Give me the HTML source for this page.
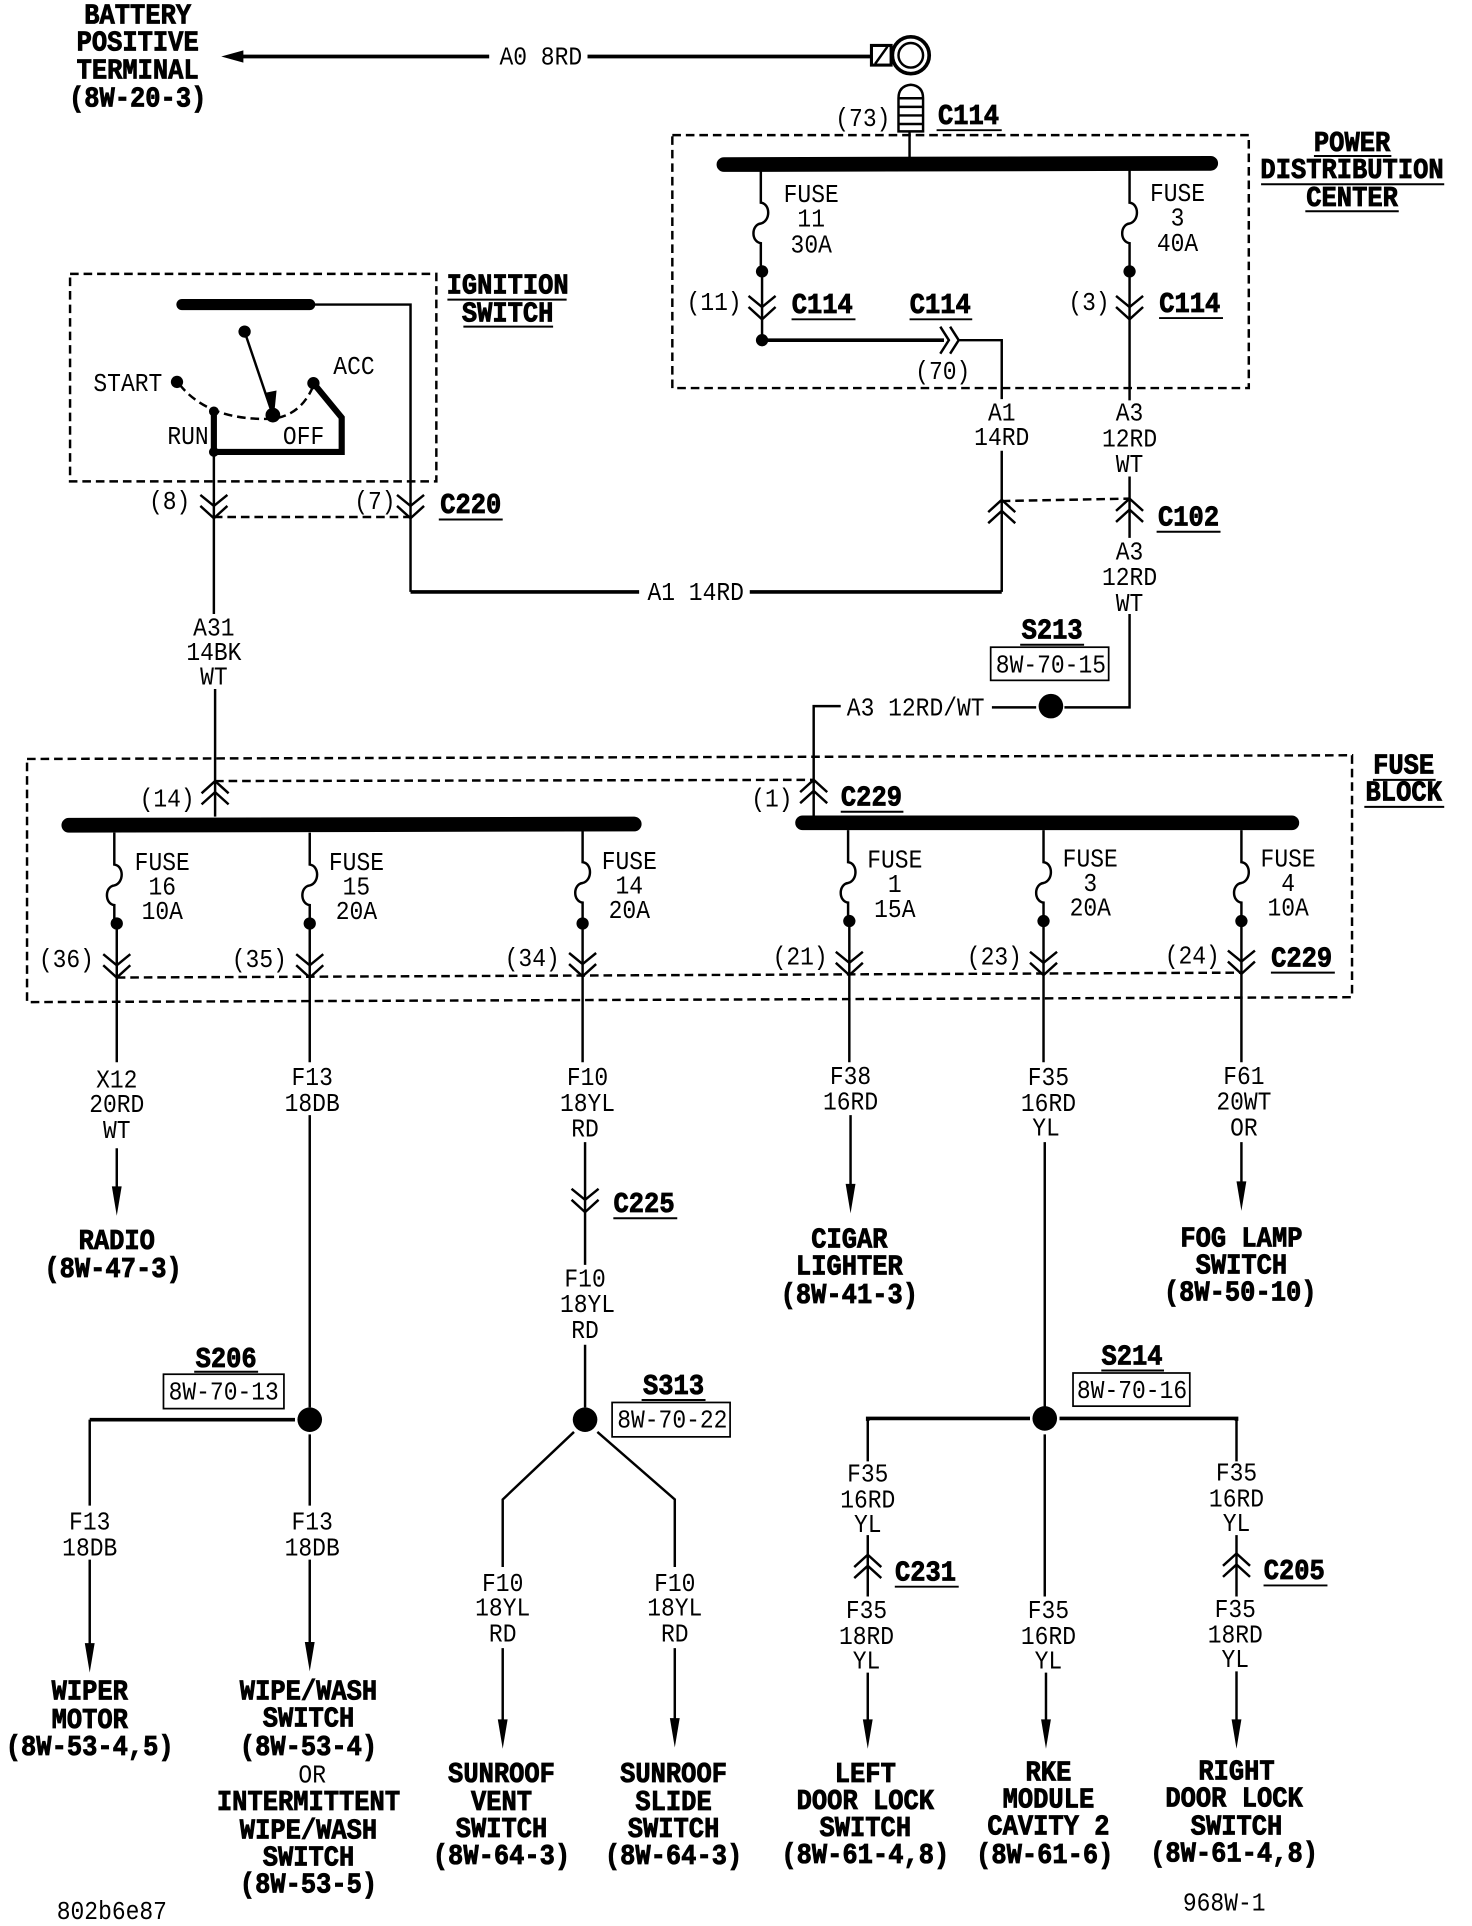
<!DOCTYPE html>
<html><head><meta charset="utf-8"><title>Wiring diagram</title>
<style>
html,body{margin:0;padding:0;background:#fff}
svg{display:block}
text{font-family:"Liberation Mono",monospace;font-size:21px;text-anchor:middle;dominant-baseline:central;fill:#000;transform-box:fill-box;transform-origin:center;transform:translateY(1.8px) scaleX(.89)}
text.b{font-weight:bold;font-size:23px;stroke:#000;stroke-width:.7px;transform:translateY(1.8px) scaleX(.9)}
.w{fill:none;stroke:#000;stroke-width:2}
.t{fill:none;stroke:#000;stroke-width:3}
.h{fill:none;stroke:#000;stroke-width:5}
.d{fill:none;stroke:#000;stroke-width:2;stroke-dasharray:7 4}
.u{stroke:#000;stroke-width:1.6}
.bx{fill:#fff;stroke:#000;stroke-width:1.4}
</style></head><body>
<svg xmlns="http://www.w3.org/2000/svg" width="1472" height="1926" viewBox="0 0 1197.6 1568.3" preserveAspectRatio="none">
<defs>
<path id="cd" class="w" d="M-11,0 L0,9 L11,0 M-11,9 L0,19 L11,9"/>
<path id="cu" class="w" d="M-11,10 L0,0 L11,10 M-11,19 L0,9 L11,19"/>
<path id="ah" d="M-4,-24 L4,-24 L0,0 Z"/>
</defs>
<rect width="1198" height="1569" fill="#fff"/>

<!-- top battery -->
<path d="M180,46 L198,41 L198,51 Z"/>
<path class="t" d="M196,46 H398 M478,46 H708"/>
<rect x="709" y="37" width="16" height="16" fill="#fff" stroke="#000" stroke-width="2.5"/>
<path class="w" d="M712,52 L722,38"/>
<circle cx="741" cy="45" r="15" fill="#fff" stroke="#000" stroke-width="3"/>
<circle cx="741" cy="45" r="10" fill="#fff" stroke="#000" stroke-width="2"/>
<path d="M731,107 V80 Q731,70 741,69 Q751,70 751,80 V107 Z" fill="#fff" stroke="#000" stroke-width="2"/>
<path class="w" d="M731,80 H751 M731,87 H751 M731,94 H751 M731,101 H751"/>
<path class="w" d="M740,107 V130"/>
<text class="b" x="112" y="12">BATTERY</text>
<text class="b" x="112" y="34">POSITIVE</text>
<text class="b" x="112" y="57">TERMINAL</text>
<text class="b" x="112" y="80">(8W-20-3)</text>
<text x="440" y="46">A0 8RD</text>
<text x="702" y="96">(73)</text>
<text class="b" x="788" y="94">C114</text><line class="u" x1="762" x2="815" y1="106" y2="106"/>

<!-- PDC -->
<rect class="d" x="547" y="110" width="469" height="206"/>
<line x1="589" x2="985" y1="134" y2="133" stroke="#000" stroke-width="12" stroke-linecap="round"/>
<path class="w" d="M619,138 V165 c8,1 8,15 0,17 c-8,1 -8,15 0,16 V221"/>
<path class="w" d="M919,138 V165 c8,1 8,15 0,17 c-8,1 -8,15 0,16 V221"/>
<circle cx="620" cy="221" r="5"/><circle cx="919" cy="221" r="5"/>
<text x="660" y="158">FUSE</text><text x="660" y="178">11</text><text x="660" y="199">30A</text>
<text x="958" y="157">FUSE</text><text x="958" y="177">3</text><text x="958" y="198">40A</text>
<use href="#cd" x="620" y="241"/><use href="#cd" x="919" y="241"/>
<path class="w" d="M620,221 V277 M919,221 V326"/>
<circle cx="620" cy="277" r="5"/>
<path class="t" d="M620,277 H768"/>
<path class="w" d="M765,266 L772,277 L765,288 M773,266 L780,277 L773,288 M780,277 H815 V325"/>
<text x="581" y="246">(11)</text>
<text class="b" x="669" y="248">C114</text><line class="u" x1="644" x2="696" y1="260" y2="260"/>
<text class="b" x="765" y="248">C114</text><line class="u" x1="740" x2="791" y1="260" y2="260"/>
<text x="886" y="246">(3)</text>
<text class="b" x="968" y="247">C114</text><line class="u" x1="943" x2="995" y1="259" y2="259"/>
<text x="767" y="302">(70)</text>
<text class="b" x="1100" y="116">POWER</text><line class="u" x1="1069" x2="1132" y1="127" y2="127"/>
<text class="b" x="1100" y="138">DISTRIBUTION</text><line class="u" x1="1026" x2="1175" y1="150" y2="150"/>
<text class="b" x="1100" y="161">CENTER</text><line class="u" x1="1062" x2="1138" y1="172" y2="172"/>

<!-- A1 / A3 -->
<text x="815" y="336">A1</text><text x="815" y="356">14RD</text>
<text x="919" y="336">A3</text><text x="919" y="357">12RD</text><text x="919" y="378">WT</text>
<path class="w" d="M815,367 V482 M919,388 V438"/>
<use href="#cu" x="815" y="407"/><use href="#cu" x="919" y="406"/>
<path class="d" d="M815,408 L919,406"/>
<text class="b" x="967" y="421">C102</text><line class="u" x1="941" x2="993" y1="433" y2="433"/>
<text x="919" y="449">A3</text><text x="919" y="470">12RD</text><text x="919" y="491">WT</text>
<path class="w" d="M919,500 V576 H866"/>
<path class="t" d="M815,482 H610 M520,482 H334"/>
<text x="566" y="482">A1 14RD</text>
<circle cx="855" cy="575" r="10"/>
<text class="b" x="856" y="513">S213</text><line class="u" x1="830" x2="882" y1="525" y2="525"/>
<rect class="bx" x="806" y="527" width="96" height="27"/>
<text x="855" y="541">8W-70-15</text>
<path class="w" d="M807,576 H843 M684,575 H662 V665"/>
<text x="745" y="576">A3 12RD/WT</text>

<!-- Ignition -->
<rect class="d" x="57" y="223" width="298" height="169"/>
<line x1="148" x2="252" y1="248" y2="248" stroke="#000" stroke-width="9" stroke-linecap="round"/>
<path class="w" d="M254,248 H334 V482"/>
<circle cx="199" cy="270" r="5"/>
<path class="w" d="M199,270 L222,338"/>
<path d="M215,320 L225,318 L223,338 Z"/>
<circle cx="222" cy="338" r="6"/>
<circle cx="144" cy="311" r="5"/>
<path class="d" d="M146,313 Q170,343 222,341 Q245,338 255,314"/>
<circle cx="255" cy="312" r="5"/>
<path class="h" d="M255,312 L278,340 V368 H174 V335"/>
<circle cx="174" cy="335" r="4"/><circle cx="174" cy="368" r="4"/>
<text x="104" y="312">START</text>
<text x="288" y="298">ACC</text>
<text x="153" y="355">RUN</text>
<text x="247" y="355">OFF</text>
<text class="b" x="413" y="232">IGNITION</text><line class="u" x1="364" x2="461" y1="244" y2="244"/>
<text class="b" x="413" y="255">SWITCH</text><line class="u" x1="377" x2="450" y1="266" y2="266"/>
<path class="w" d="M174,368 V500"/>
<use href="#cd" x="174" y="403"/><use href="#cd" x="334" y="403"/>
<path class="d" d="M174,421 L334,421"/>
<text x="138" y="408">(8)</text><text x="305" y="408">(7)</text>
<text class="b" x="383" y="411">C220</text><line class="u" x1="357" x2="409" y1="423" y2="423"/>
<text x="174" y="511">A31</text><text x="174" y="531">14BK</text><text x="174" y="551">WT</text>
<path class="w" d="M175,561 V665"/>

<!-- Fuse block -->
<path class="d" d="M22,618 L1100,615 V812 L22,816 Z"/>
<use href="#cu" x="175" y="636"/><use href="#cu" x="662" y="635"/>
<path class="d" d="M175,636 L662,635"/>
<text x="136" y="650">(14)</text><text x="628" y="650">(1)</text>
<text class="b" x="709" y="649">C229</text><line class="u" x1="684" x2="735" y1="661" y2="661"/>
<text class="b" x="1142" y="623">FUSE</text><line class="u" x1="1117" x2="1168" y1="635" y2="635"/>
<text class="b" x="1142" y="645">BLOCK</text><line class="u" x1="1110" x2="1175" y1="657" y2="657"/>
<line x1="56" x2="516" y1="672" y2="671" stroke="#000" stroke-width="12" stroke-linecap="round"/>
<line x1="653" x2="1051" y1="670" y2="670" stroke="#000" stroke-width="12" stroke-linecap="round"/>
<path class="w" d="M93,678 V704 c8,1 8,15 0,17 c-8,1 -8,15 0,16 V752"/>
<path class="w" d="M252,678 V704 c8,1 8,15 0,17 c-8,1 -8,15 0,16 V752"/>
<path class="w" d="M474,676 V702 c8,1 8,15 0,17 c-8,1 -8,15 0,16 V752"/>
<path class="w" d="M690,676 V702 c8,1 8,15 0,17 c-8,1 -8,15 0,16 V750"/>
<path class="w" d="M849,676 V702 c8,1 8,15 0,17 c-8,1 -8,15 0,16 V750"/>
<path class="w" d="M1010,676 V702 c8,1 8,15 0,17 c-8,1 -8,15 0,16 V750"/>
<circle cx="95" cy="752" r="5"/><circle cx="252" cy="752" r="5"/><circle cx="474" cy="752" r="5"/>
<circle cx="691" cy="750" r="5"/><circle cx="849" cy="750" r="5"/><circle cx="1010" cy="750" r="5"/>
<text x="132" y="702">FUSE</text><text x="132" y="722">16</text><text x="132" y="742">10A</text>
<text x="290" y="702">FUSE</text><text x="290" y="722">15</text><text x="290" y="742">20A</text>
<text x="512" y="701">FUSE</text><text x="512" y="721">14</text><text x="512" y="741">20A</text>
<text x="728" y="700">FUSE</text><text x="728" y="720">1</text><text x="728" y="740">15A</text>
<text x="887" y="699">FUSE</text><text x="887" y="719">3</text><text x="887" y="739">20A</text>
<text x="1048" y="699">FUSE</text><text x="1048" y="719">4</text><text x="1048" y="739">10A</text>
<path class="w" d="M95,752 V865 M252,752 V865 M474,752 V865 M691,750 V865 M849,750 V865 M1010,750 V865"/>
<use href="#cd" x="95" y="777"/><use href="#cd" x="252" y="777"/><use href="#cd" x="474" y="776"/>
<use href="#cd" x="691" y="775"/><use href="#cd" x="849" y="775"/><use href="#cd" x="1010" y="774"/>
<path class="d" d="M95,796 L1010,792"/>
<text x="54" y="781">(36)</text><text x="211" y="781">(35)</text><text x="433" y="780">(34)</text>
<text x="651" y="779">(21)</text><text x="809" y="779">(23)</text><text x="970" y="778">(24)</text>
<text class="b" x="1059" y="780">C229</text><line class="u" x1="1034" x2="1086" y1="792" y2="792"/>

<!-- X12 radio -->
<text x="95" y="879">X12</text><text x="95" y="899">20RD</text><text x="95" y="920">WT</text>
<path class="w" d="M95,935 V968"/><use href="#ah" x="95" y="990"/>
<text class="b" x="95" y="1010">RADIO</text><text class="b" x="92" y="1033">(8W-47-3)</text>

<!-- F13 -->
<text x="254" y="877">F13</text><text x="254" y="898">18DB</text>
<path class="w" d="M252,908 V1146"/>
<circle cx="252" cy="1156" r="10"/>
<text class="b" x="184" y="1106">S206</text><line class="u" x1="158" x2="210" y1="1117" y2="1117"/>
<rect class="bx" x="133" y="1119" width="98" height="28"/>
<text x="182" y="1133">8W-70-13</text>
<path class="t" d="M240,1156 H73"/><path class="w" d="M73,1156 V1226 M252,1168 V1226"/>
<text x="73" y="1239">F13</text><text x="73" y="1260">18DB</text>
<text x="254" y="1239">F13</text><text x="254" y="1260">18DB</text>
<path class="w" d="M73,1270 V1345 M252,1270 V1345"/>
<use href="#ah" x="73" y="1362"/><use href="#ah" x="252" y="1361"/>
<text class="b" x="73" y="1377">WIPER</text><text class="b" x="73" y="1400">MOTOR</text><text class="b" x="73" y="1422">(8W-53-4,5)</text>
<text class="b" x="251" y="1377">WIPE/WASH</text><text class="b" x="251" y="1399">SWITCH</text><text class="b" x="251" y="1422">(8W-53-4)</text>
<text x="254" y="1445">OR</text>
<text class="b" x="251" y="1467">INTERMITTENT</text><text class="b" x="251" y="1490">WIPE/WASH</text><text class="b" x="251" y="1512">SWITCH</text><text class="b" x="251" y="1534">(8W-53-5)</text>

<!-- F10 -->
<text x="478" y="877">F10</text><text x="478" y="898">18YL</text><text x="476" y="919">RD</text>
<path class="w" d="M476,930 V1030"/>
<use href="#cd" x="476" y="968"/>
<text class="b" x="524" y="980">C225</text><line class="u" x1="499" x2="551" y1="992" y2="992"/>
<text x="476" y="1041">F10</text><text x="478" y="1062">18YL</text><text x="476" y="1083">RD</text>
<path class="w" d="M476,1095 V1146"/>
<circle cx="476" cy="1156" r="10"/>
<text class="b" x="548" y="1128">S313</text><line class="u" x1="522" x2="574" y1="1140" y2="1140"/>
<rect class="bx" x="498" y="1142" width="96" height="28"/>
<text x="547" y="1156">8W-70-22</text>
<path class="w" d="M467,1166 L409,1221 V1276 M486,1166 L549,1221 V1276"/>
<text x="409" y="1289">F10</text><text x="409" y="1309">18YL</text><text x="409" y="1330">RD</text>
<text x="549" y="1289">F10</text><text x="549" y="1309">18YL</text><text x="549" y="1330">RD</text>
<path class="w" d="M409,1342 V1405 M549,1342 V1405"/>
<use href="#ah" x="409" y="1424"/><use href="#ah" x="549" y="1423"/>
<text class="b" x="408" y="1444">SUNROOF</text><text class="b" x="408" y="1467">VENT</text><text class="b" x="408" y="1489">SWITCH</text><text class="b" x="408" y="1511">(8W-64-3)</text>
<text class="b" x="548" y="1444">SUNROOF</text><text class="b" x="548" y="1467">SLIDE</text><text class="b" x="548" y="1489">SWITCH</text><text class="b" x="548" y="1511">(8W-64-3)</text>

<!-- F38 -->
<text x="692" y="876">F38</text><text x="692" y="897">16RD</text>
<path class="w" d="M692,908 V968"/><use href="#ah" x="692" y="988"/>
<text class="b" x="691" y="1009">CIGAR</text><text class="b" x="691" y="1031">LIGHTER</text><text class="b" x="691" y="1054">(8W-41-3)</text>

<!-- F35 -->
<text x="853" y="877">F35</text><text x="853" y="898">16RD</text><text x="851" y="918">YL</text>
<path class="w" d="M850,930 V1146"/>
<circle cx="850" cy="1155" r="10"/>
<text class="b" x="921" y="1104">S214</text><line class="u" x1="896" x2="947" y1="1116" y2="1116"/>
<rect class="bx" x="873" y="1118" width="95" height="27"/>
<text x="921" y="1132">8W-70-16</text>
<path class="t" d="M838,1155 H706 V1157 M862,1155 H1006 V1157"/>
<path class="w" d="M706,1155 V1190 M1006,1155 V1190"/>
<path class="w" d="M850,1168 V1300"/>
<text x="706" y="1200">F35</text><text x="706" y="1221">16RD</text><text x="706" y="1241">YL</text>
<path class="w" d="M706,1250 V1300"/><use href="#cu" x="706" y="1266"/>
<text class="b" x="753" y="1280">C231</text><line class="u" x1="728" x2="780" y1="1292" y2="1292"/>
<text x="705" y="1311">F35</text><text x="705" y="1332">18RD</text><text x="705" y="1352">YL</text>
<text x="853" y="1311">F35</text><text x="853" y="1332">16RD</text><text x="853" y="1352">YL</text>
<text x="1006" y="1199">F35</text><text x="1006" y="1220">16RD</text><text x="1006" y="1240">YL</text>
<path class="w" d="M1006,1250 V1300"/><use href="#cu" x="1006" y="1265"/>
<text class="b" x="1053" y="1279">C205</text><line class="u" x1="1028" x2="1080" y1="1291" y2="1291"/>
<text x="1005" y="1310">F35</text><text x="1005" y="1331">18RD</text><text x="1005" y="1351">YL</text>
<path class="w" d="M706,1362 V1405 M851,1362 V1405 M1006,1361 V1405"/>
<use href="#ah" x="706" y="1424"/><use href="#ah" x="851" y="1424"/><use href="#ah" x="1006" y="1424"/>
<text class="b" x="704" y="1444">LEFT</text><text class="b" x="704" y="1466">DOOR LOCK</text><text class="b" x="704" y="1488">SWITCH</text><text class="b" x="704" y="1510">(8W-61-4,8)</text>
<text class="b" x="853" y="1443">RKE</text><text class="b" x="853" y="1465">MODULE</text><text class="b" x="853" y="1487">CAVITY 2</text><text class="b" x="850" y="1510">(8W-61-6)</text>
<text class="b" x="1006" y="1442">RIGHT</text><text class="b" x="1004" y="1464">DOOR LOCK</text><text class="b" x="1006" y="1487">SWITCH</text><text class="b" x="1004" y="1509">(8W-61-4,8)</text>

<!-- F61 -->
<text x="1012" y="876">F61</text><text x="1012" y="897">20WT</text><text x="1012" y="918">OR</text>
<path class="w" d="M1010,930 V968"/><use href="#ah" x="1010" y="986"/>
<text class="b" x="1010" y="1008">FOG LAMP</text><text class="b" x="1010" y="1030">SWITCH</text><text class="b" x="1009" y="1052">(8W-50-10)</text>

<text x="91" y="1556">802b6e87</text>
<text x="996" y="1549">968W-1</text>
</svg>
</body></html>
